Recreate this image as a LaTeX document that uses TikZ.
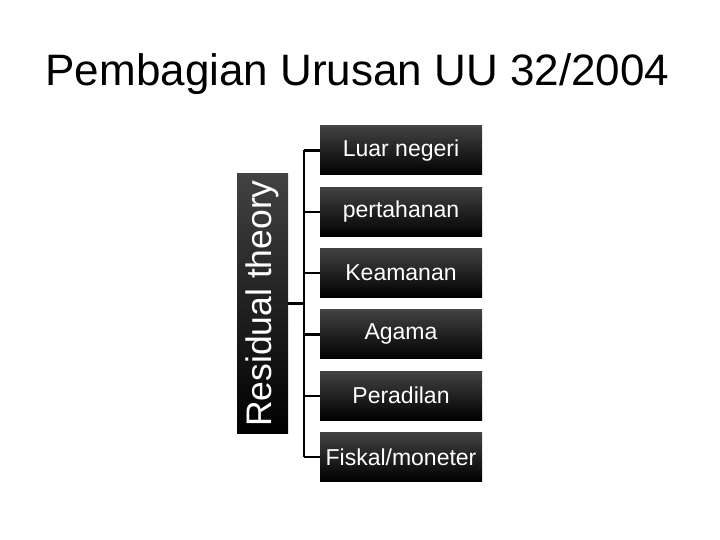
\documentclass[tikz,border=0pt]{standalone}
\usepackage{fontspec}
\setmainfont{Liberation Sans}
\usepackage{tikz}
\usetikzlibrary{positioning}
\definecolor{boxtop}{RGB}{66,66,66}
\tikzset{%
  every item/.style={
    rectangle,
    minimum width=162pt,
    minimum height=49pt,
    inner sep=0pt,
    top color=boxtop,
    middle color=black,
    bottom color=black,
    text=white,
    font=\fontsize{23}{25}\selectfont
  },
  theory box/.style={
    every item,
    rotate=90,
    minimum width=259pt,
    minimum height=51pt,
    font=\fontsize{35.5}{38}\selectfont
  },
  link/.style={
    draw=black,
    line width=2.2pt
  },
}

\begin{document}
\begin{tikzpicture}[x=1pt, y=-1pt]

    \useasboundingbox (0,0) rectangle (720,540);

    \node [anchor=base, font=\fontsize{44}{48}\selectfont] (title) at (357.5,86)
        {Pembagian Urusan UU 32/2004};

    \node [theory box] (residual) at (262.5,303.5) {Residual theory};

    \foreach \l [count=\y] in {Luar negeri,pertahanan,Keamanan,Agama,Peradilan,Fiskal/moneter}
    \node [every item] (item-\y) at (401,89.2+\y*61.3) {\l};

    \coordinate [right=16pt of residual.south] (hub);

    \draw [link] (residual.south) -- (hub);

    \draw [link] (item-1.west -| hub) -- (item-6.west -| hub);

    \foreach \i in {1,...,6}
        \draw [link] (item-\i.west -| hub) -- (item-\i.west);

\end{tikzpicture}
\end{document}
